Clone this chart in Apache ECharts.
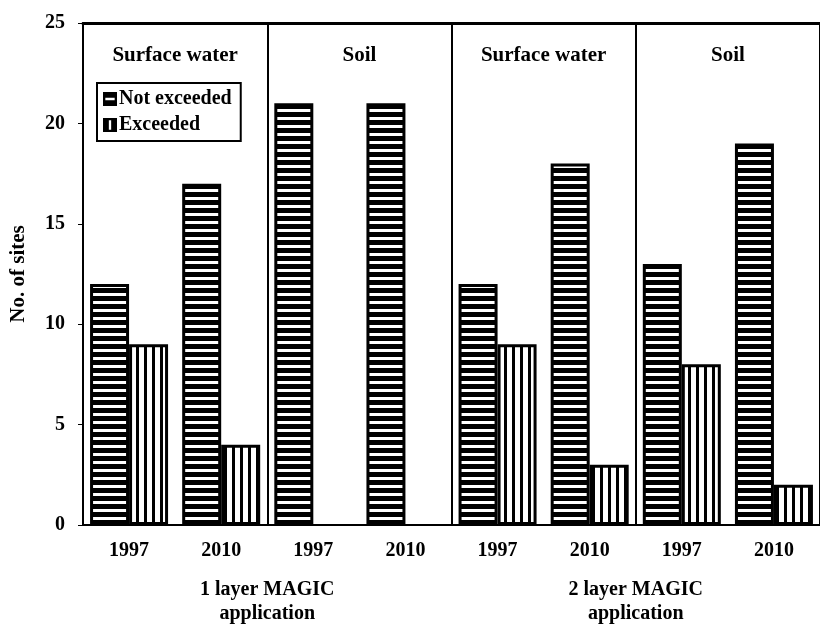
<!DOCTYPE html>
<html>
<head>
<meta charset="utf-8">
<script src="https://cdn.jsdelivr.net/npm/echarts@6/dist/echarts.min.js"></script>
<style>
  html, body { margin: 0; padding: 0; background: #fff; }
  #main { width: 820px; height: 629px; }
</style>
</head>
<body>
<div id="main"></div>
<script>
// data
var years = ['1997', '2010', '1997', '2010', '1997', '2010', '1997', '2010'];
var notExceeded = [12, 17, 21, 21, 12, 18, 13, 19];
var exceeded = [9, 4, 0, 0, 9, 3, 8, 2];
var compartments = ['Surface water', 'Soil', 'Surface water', 'Soil'];
var applications = ['1 layer MAGIC\napplication', '2 layer MAGIC\napplication'];
var yMin = 0, yMax = 25, yStep = 5;

var font = "'Liberation Serif', 'Times New Roman', serif";

// striped fills
function stripes(horizontal) {
    var c = document.createElement('canvas');
    c.width = 8;
    c.height = 8;
    var ctx = c.getContext('2d');
    ctx.fillStyle = '#000';
    ctx.fillRect(0, 0, 8, 8);
    ctx.fillStyle = '#fff';
    if (horizontal) ctx.fillRect(0, 5, 8, 3);
    else ctx.fillRect(3, 0, 5, 8);
    return { image: c, repeat: 'repeat' };
}

// no outline on empty bars
function barData(values) {
    return values.map(function (v) {
        return v === 0 ? { value: v, itemStyle: { borderWidth: 0 } } : v;
    });
}

var myChart = echarts.init(document.getElementById('main'));

var labelStyle = { color: '#000', fontFamily: font, fontWeight: 'bold', fontSize: 20 };

myChart.setOption({
    backgroundColor: '#fff',
    animation: false,
    grid: { left: 80, top: 23, width: 746, bottom: 104 },
    legend: {
        orient: 'vertical',
        left: 97,
        top: 83,
        borderColor: '#000',
        borderWidth: 2,
        padding: [6, 9, 6, 6],
        itemGap: 6,
        itemWidth: 14,
        itemHeight: 14,
        textStyle: { color: '#000', fontFamily: font, fontWeight: 'bold', fontSize: 20, padding: [0, 0, 0, -3] },
        data: [
            { name: 'Not exceeded', icon: 'path://M0,0H12V12H0Z M2,5V7H10V5Z', itemStyle: { color: '#000', borderWidth: 0 } },
            { name: 'Exceeded', icon: 'path://M0,0H12V12H0Z M5,2V10H7V2Z', itemStyle: { color: '#000', borderWidth: 0 } }
        ]
    },
    xAxis: [
        {
            type: 'category',
            data: years,
            axisLine: { lineStyle: { color: '#000', width: 2 } },
            axisTick: { show: false },
            axisLabel: Object.assign({ margin: 16 }, labelStyle),
            splitLine: {
                show: true,
                interval: function (index) { return index % 2 === 0 && index > 0; },
                lineStyle: { color: '#000', width: 2 }
            }
        },
        {
            type: 'category',
            position: 'top',
            data: compartments,
            axisLine: { lineStyle: { color: '#000', width: 3 } },
            axisTick: { show: false },
            axisLabel: { inside: true, margin: 22, fontSize: 21, color: '#000', fontFamily: font, fontWeight: 'bold' },
            splitLine: { show: false }
        },
        {
            type: 'category',
            position: 'bottom',
            data: applications,
            axisLine: { show: false },
            axisTick: { show: false },
            axisLabel: Object.assign({ margin: 53, lineHeight: 24 }, labelStyle),
            splitLine: { show: false }
        }
    ],
    yAxis: {
        type: 'value',
        min: yMin,
        max: yMax,
        interval: yStep,
        name: 'No. of sites',
        nameLocation: 'middle',
        nameGap: 54,
        nameTextStyle: { color: '#000', fontFamily: font, fontWeight: 'bold', fontSize: 21 },
        axisLine: { show: true, lineStyle: { color: '#000', width: 2 } },
        axisTick: { show: true, length: 5, lineStyle: { color: '#000', width: 1 } },
        axisLabel: Object.assign({ margin: 18 }, labelStyle),
        splitLine: { show: false }
    },
    series: [
        {
            name: 'Not exceeded',
            type: 'bar',
            data: barData(notExceeded),
            barWidth: 39,
            barGap: '0%',
            itemStyle: { color: stripes(true), borderColor: '#000', borderWidth: 3 }
        },
        {
            name: 'Exceeded',
            type: 'bar',
            data: barData(exceeded),
            barWidth: 39,
            barGap: '0%',
            itemStyle: { color: stripes(false), borderColor: '#000', borderWidth: 3 }
        }
    ]
});
</script>
</body>
</html>
